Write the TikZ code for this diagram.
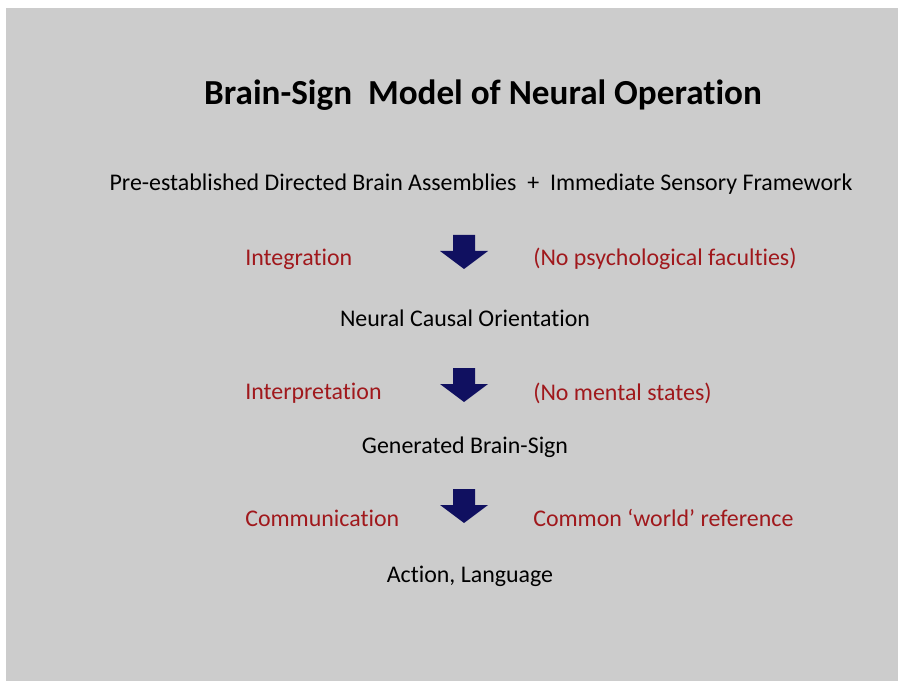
\documentclass[tikz,border=0pt]{standalone}
\usepackage{fontspec}
\setmainfont{Carlito}[Ligatures=NoCommon]
\definecolor{slidegray}{RGB}{204,204,204}
\definecolor{darkred}{RGB}{160,24,28}
\definecolor{arrownavy}{RGB}{16,16,96}
\tikzset{
	title/.style={font=\fontsize{25}{30}\selectfont\bfseries, inner sep=0pt},
	stage/.style={font=\fontsize{17}{20}\selectfont, inner sep=0pt},
	note/.style={font=\fontsize{17}{20}\selectfont, text=darkred, inner sep=0pt, anchor=west}
}
\begin{document}
\begin{tikzpicture}[x=0.025cm, y=-0.025cm]
		%slide background
		\useasboundingbox (0,0) rectangle (898,681);
		\fill[slidegray] (6,8) rectangle (898,681);
		
		\node[title] (head) at (483, 95){Brain-Sign\ \ Model of Neural Operation};
		
		%stages
		\node[stage] (inputs) at (481, 184){Pre-established Directed Brain Assemblies \ + \ Immediate Sensory Framework};
		\node[stage] (orient) at (465, 318){Neural Causal Orientation};
		\node[stage] (sign) at (465, 447){Generated Brain-Sign};
		\node[stage] (act) at (470, 576){Action, Language};
		
		%arrows
		\foreach \t in {235, 368, 489}{
			\fill[arrownavy] (453, \t) -- (475, \t) -- (475, \t+16) -- (488, \t+16)
				-- (464, \t+34) -- (440, \t+16) -- (453, \t+16) -- cycle;
		}
		
		%side notes
		\node[note] (integ) at (245, 259){Integration};
		\node[note] (nofac) at (533, 259){(No psychological faculties)};
		\node[note] (interp) at (245, 393){Interpretation};
		\node[note] (nomental) at (533, 393){(No mental states)};
		\node[note] (comm) at (245, 518){Communication};
		\node[note] (common) at (533, 518){Common `world' reference};
\end{tikzpicture}
\end{document}
